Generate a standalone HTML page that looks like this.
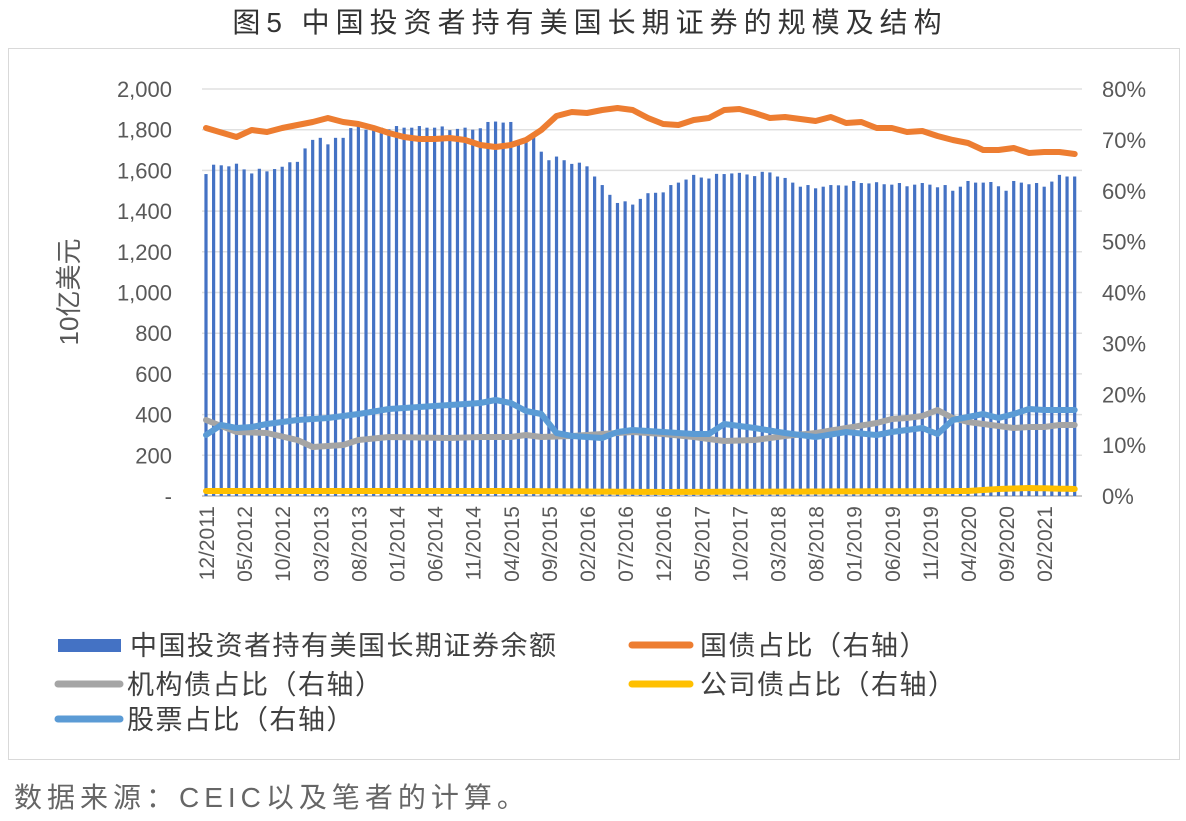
<!DOCTYPE html>
<html><head><meta charset="utf-8"><style>
html,body{margin:0;padding:0;background:#fff;}
body{width:1186px;height:816px;overflow:hidden;font-family:"Liberation Sans","Noto Sans CJK SC",sans-serif;}
</style></head><body>
<svg id="c" width="1186" height="816" xmlns="http://www.w3.org/2000/svg" font-family="Liberation Sans, Noto Sans CJK SC, sans-serif">
<text x="590" y="32" text-anchor="middle" font-size="28" fill="#333" letter-spacing="6">图5  中国投资者持有美国长期证券的规模及结构</text>
<rect x="8.5" y="48.5" width="1171" height="711" fill="none" stroke="#d9d9d9"/>
<g id="grid"></g><g id="bars"></g><g id="lines"></g><g id="labels" fill="#595959"></g>
<text transform="translate(78,292) rotate(-90)" text-anchor="middle" font-size="26" fill="#595959">10亿美元</text>
<rect x="58" y="639" width="63" height="13" fill="#4472c4"/>
<text x="130" y="655" font-size="27" letter-spacing="1.5" fill="#404040">中国投资者持有美国长期证券余额</text>
<line x1="632" y1="645" x2="690" y2="645" stroke="#ed7d31" stroke-width="7" stroke-linecap="round"/>
<text x="700" y="655" font-size="27" letter-spacing="1.5" fill="#404040">国债占比（右轴）</text>
<line x1="58" y1="684" x2="120" y2="684" stroke="#a5a5a5" stroke-width="7" stroke-linecap="round"/>
<text x="127" y="694" font-size="27" letter-spacing="1.5" fill="#404040">机构债占比（右轴）</text>
<line x1="632" y1="684" x2="690" y2="684" stroke="#ffc000" stroke-width="7" stroke-linecap="round"/>
<text x="700" y="694" font-size="27" letter-spacing="1.5" fill="#404040">公司债占比（右轴）</text>
<line x1="58" y1="719" x2="120" y2="719" stroke="#5b9bd5" stroke-width="7" stroke-linecap="round"/>
<text x="127" y="729" font-size="27" letter-spacing="1.5" fill="#404040">股票占比（右轴）</text>
<text x="14" y="807" font-size="28" fill="#666" letter-spacing="5">数据来源：CEIC以及笔者的计算。</text>
</svg>
<script>
var NS="http://www.w3.org/2000/svg";
function el(p,t,a,txt){var e=document.createElementNS(NS,t);for(var k in a)e.setAttribute(k,a[k]);if(txt!=null)e.textContent=txt;document.getElementById(p).appendChild(e);return e;}
function interp(k){var ks=Object.keys(k).map(Number).sort(function(a,b){return a-b});var o=[];for(var i=0;i<=114;i++){for(var j=0;j<ks.length-1;j++){if(i>=ks[j]&&i<=ks[j+1]){var t=(i-ks[j])/(ks[j+1]-ks[j]);o.push(k[ks[j]]+(k[ks[j+1]]-k[ks[j]])*t);break;}}}return o;}
function X(i){return 206+i*7.62;}
function Y(v){return 496-v/2000*407;}
for(var v=0;v<=2000;v+=200){var y=Y(v);el("grid","line",{x1:202,x2:1082,y1:y,y2:y,stroke:"#e0e0e0","stroke-width":1.5});
el("labels","text",{x:172,y:y+8,"text-anchor":"end","font-size":22},v==0?"-":v.toLocaleString("en-US"));}
for(var p=0;p<=80;p+=10){var y=496-p/80*407;el("labels","text",{x:1102,y:y+8,"font-size":22},p+"%");}
var bars=interp({0:1590,1:1620,2:1625,3:1620,4:1625,5:1605,6:1585,7:1600,10:1610,11:1640,12:1650,13:1700,14:1750,15:1760,16:1720,17:1760,18:1760,19:1800,20:1840,21:1800,22:1810,30:1810,35:1800,37:1830,38:1840,40:1830,41:1740,43:1760,44:1700,45:1650,46:1660,50:1620,51:1570,52:1520,53:1480,54:1440,56:1440,58:1480,60:1500,62:1540,64:1570,66:1560,68:1590,70:1580,72:1580,74:1590,75:1570,77:1540,78:1520,80:1520,82:1520,85:1540,90:1530,95:1530,97:1520,98:1500,100:1540,102:1540,104:1530,105:1500,106:1540,108:1540,110:1520,112:1570,114:1570});
bars.forEach(function(b,i){var n=(i%3==1?8:(i%4==0?-8:0));el("bars","rect",{x:X(i)-1.6,y:Y(b+n),width:3.2,height:496-Y(b+n),fill:"#4472c4"});});
el("grid","line",{x1:202,x2:1082,y1:496,y2:496,stroke:"#bfbfbf","stroke-width":1.5});
function line(k,c){var a=interp(k);var d=a.map(function(y,i){return(i?"L":"M")+X(i).toFixed(1)+","+y.toFixed(1)}).join("");el("lines","path",{d:d,fill:"none",stroke:c,"stroke-width":6,"stroke-linejoin":"round","stroke-linecap":"round"});}
line({0:128,4:137,6:130,8:132,10:128,14:122,16:118,18:122,20:124,22:128,24:133,26:137,28:139,30:139,32:138,34:140,36:145,38:147,40:145,42:140,44:130,46:116,48:112,50:113,52:110,54:108,56:110,58:118,60:124,62:125,64:120,66:118,68:110,70:109,72:113,74:118,76:117,78:119,80:121,82:117,84:123,86:122,88:128,90:128,92:132,94:131,96:136,98:140,100:143,102:150,104:150,106:148,108:153,110:152,112:152,114:154},"#ed7d31");
line({0:420,4:432,8:433,12:440,14:447,18:445,20:440,24:437,32:438,36:437,40:437,42:435,44:437,48:436,52:434,56:432,60:434,64:437,68:441,72:440,76:436,80:433,84:428,88:423,90:419,92:418,94:416,96:410,98:418,100:422,102:424,104:426,106:428,108:427,110:427,112:425,114:425},"#a5a5a5");
line({0:491,40:491,60:492,100:491,104:489,108:488,114:489},"#ffc000");
line({0:435,2:425,4:428,6:427,8:424,12:420,16:418,20:414,24:409,28:407,32:405,36:403,38:400,40:403,42:411,44:414,46:433,48:436,50:437,52:438,54:432,56:430,60:432,64:434,66:434,68:424,72:428,76:433,80:437,84:432,88:435,90:432,92:430,94:428,96:434,98:420,100:417,102:414,104:418,106:414,108:409,110:410,112:410,114:410},"#5b9bd5");
var mm=["12/2011","05/2012","10/2012","03/2013","08/2013","01/2014","06/2014","11/2014","04/2015","09/2015","02/2016","07/2016","12/2016","05/2017","10/2017","03/2018","08/2018","01/2019","06/2019","11/2019","04/2020","09/2020","02/2021"];
mm.forEach(function(s,j){var x=X(j*5)+8;el("labels","text",{transform:"translate("+x+",506) rotate(-90)","text-anchor":"end","font-size":21},s);});
</script>
</body></html>
